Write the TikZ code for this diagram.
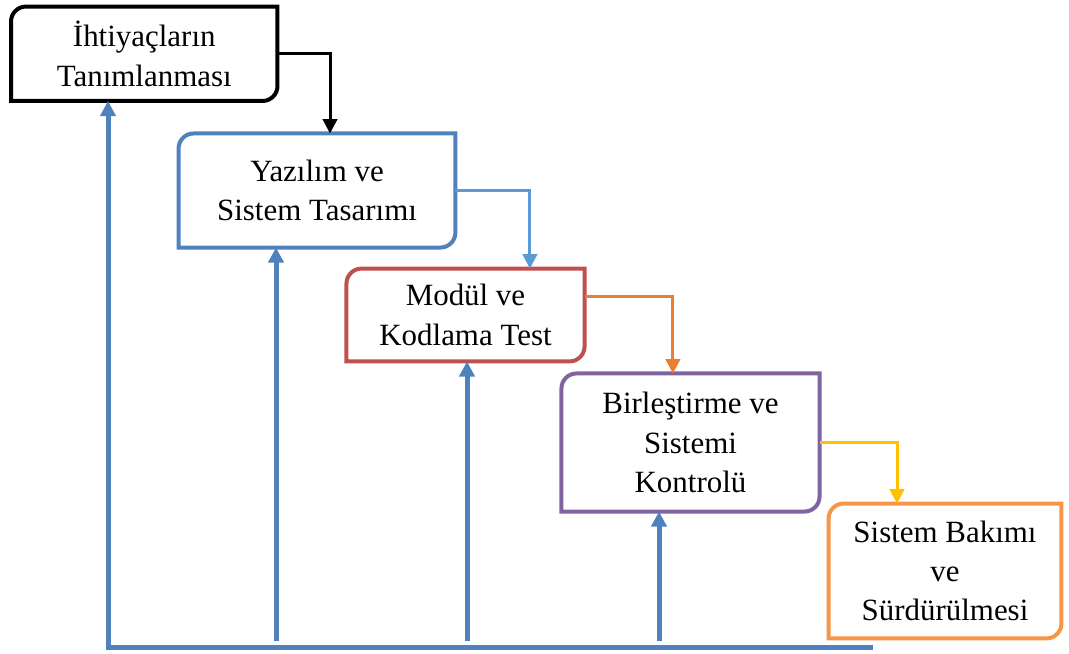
\documentclass[tikz,border=0pt]{standalone}
\usepackage{fontspec}
\setmainfont{Liberation Serif}
\usetikzlibrary{arrows.meta}
\definecolor{boxblue}{HTML}{4F81BD}
\definecolor{boxred}{HTML}{C0504D}
\definecolor{boxpurple}{HTML}{8064A2}
\definecolor{boxorange}{HTML}{F79646}
\definecolor{linkblue}{HTML}{5B9BD5}
\definecolor{linkorange}{HTML}{ED7D31}
\definecolor{linkyellow}{HTML}{FFC000}
\tikzset{
  every picture/.style={
    line width=2pt
  },
  stagebox/.style={align=center, inner sep=0pt, font=\fontsize{22}{28}\selectfont},
  stageframe/.style={line width=0.1cm},
  link/.style={line width=0.075cm, -{Triangle[width=0.36cm, length=0.36cm]}},
  backlink/.style={boxblue, line width=0.125cm, -{Triangle[width=0.38cm, length=0.38cm]}}
}

\begin{document}
\begin{tikzpicture}[x=0.025cm, y=-0.025cm]
  \useasboundingbox (0,0) rectangle (1069,653);

  \node[stagebox, minimum width=6.59cm, minimum height=2.29cm] (req) at (144.25,53.75) {İhtiyaçların\\Tanımlanması};
  \node[stagebox, minimum width=6.85cm, minimum height=2.78cm] (design) at (317,190.5) {Yazılım ve\\Sistem Tasarımı};
  \node[stagebox, minimum width=5.88cm, minimum height=2.25cm] (modul) at (465.5,315) {Modül ve\\Kodlama Test};
  \node[stagebox, minimum width=6.38cm, minimum height=3.38cm] (integ) at (690.5,442.5) {Birleştirme ve\\Sistemi\\Kontrolü};
  \node[stagebox, minimum width=5.75cm, minimum height=3.3cm] (maint) at (945,571) {Sistem Bakımı\\ve\\Sürdürülmesi};

  % frames: round corners top left and bottom right only
  \foreach \n/\c in {req/black, design/boxblue, modul/boxred, integ/boxpurple, maint/boxorange}
    \draw[stageframe, \c] (\n.south west) -- ([yshift=-0.375cm]\n.north west)
      arc[start angle=180, end angle=90, radius=0.375cm] -- (\n.north east)
      -- ([yshift=0.375cm]\n.south east)
      arc[start angle=0, end angle=-90, radius=0.375cm] -- cycle;

  \draw[link, black] (req.east) -| ([xshift=0.325cm]design.north);
  \draw[link, linkblue] (design.east) -| ([xshift=1.61cm]modul.north);
  \draw[link, linkorange] ([yshift=0.475cm]modul.east) -| ([xshift=-0.44cm]integ.north);
  \draw[link, linkyellow] (integ.east) -| ([xshift=-1.2cm]maint.north);

  % feedback
  \coordinate (base) at (108,647);
  \coordinate (baseend) at (873,647);
  \draw[backlink] (baseend) -- (base) -- (req.south -| base);
  \foreach \x/\n in {276/design, 467/modul, 659/integ} {
    \coordinate (f\n) at (\x,641);
    \draw[backlink] (f\n) -- (\n.south -| f\n);
  }
\end{tikzpicture}
\end{document}
